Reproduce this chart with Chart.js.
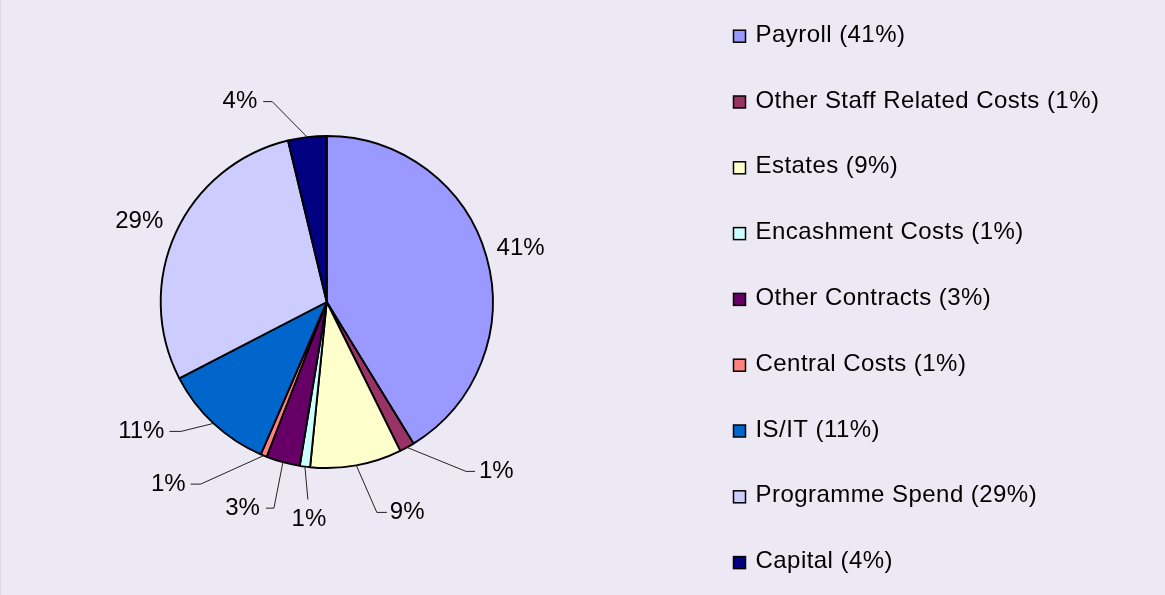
<!DOCTYPE html>
<html>
<head>
<meta charset="utf-8">
<title>Spend breakdown</title>
<script src="https://cdn.jsdelivr.net/npm/chart.js@4/dist/chart.umd.min.js"></script>
<style>
  html, body { margin: 0; padding: 0; background: #ECE9F4; }
  canvas { display: block; }
</style>
</head>
<body>
<canvas id="myChart" width="1165" height="595"></canvas>
<script>
// Datas
const categories = ["Payroll", "Other Staff Related Costs", "Estates", "Encashment Costs", "Other Contracts", "Central Costs", "IS/IT", "Programme Spend", "Capital"];
const shares = [41.25, 1.45, 8.9, 1.0, 3.3, 0.6, 10.9, 28.85, 3.75];
const sliceColours = ["#9999FF", "#993366", "#FFFFCC", "#CCFFFF", "#660066", "#FF8080", "#0066CC", "#CCCCFF", "#000080"];

// where each % label sits, relative to the middle of its slice's rim
// dx/dy = elbow of leader line (or text spot when no line), tail = horizontal bit
const labelLayout = [
    { dx: 10, dy: -9, line: false, align: "left" },
    { dx: 59, dy: 24, tail: 9, gap: 4, align: "left" },
    { dx: 20.5, dy: 47, tail: 10, gap: 3, align: "left" },
    { dx: 3, dy: 33, tail: 0, gap: 20, align: "center" },
    { dx: -9, dy: 46, tail: -8, gap: 6, align: "right" },
    { dx: -63, dy: 28.5, tail: -10, gap: 5, align: "right" },
    { dx: -32.5, dy: 8, tail: -11.5, gap: 5, align: "right" },
    { dx: -12.5, dy: -11.5, line: false, align: "right" },
    { dx: -35, dy: -35.5, tail: -9, gap: 6, align: "right" }
];

const FONT = "24px 'Liberation Sans', Arial, sans-serif";
const total = shares.reduce((a, b) => a + b, 0);
const pct = v => Math.round(v / total * 100) + "%";

// background + left frame line
const backdrop = {
    id: "backdrop",
    beforeDraw(chart) {
        const ctx = chart.ctx;
        ctx.save();
        ctx.fillStyle = "#ECE9F4";
        ctx.fillRect(0, 0, chart.width, chart.height);
        ctx.fillStyle = "#DDDBE5";
        ctx.fillRect(0, 0, 1, chart.height);
        ctx.restore();
    }
};

// outside % labels with leader lines
const sliceLabels = {
    id: "sliceLabels",
    afterDatasetsDraw(chart) {
        const ctx = chart.ctx;
        const arcs = chart.getDatasetMeta(0).data;
        ctx.save();
        ctx.font = FONT;
        ctx.fillStyle = "#000";
        ctx.strokeStyle = "#222";
        ctx.lineWidth = 1;
        ctx.textBaseline = "middle";
        arcs.forEach((arc, i) => {
            const mid = (arc.startAngle + arc.endAngle) / 2;
            const ex = arc.x + Math.cos(mid) * arc.outerRadius;
            const ey = arc.y + Math.sin(mid) * arc.outerRadius;
            const lay = labelLayout[i];
            const text = pct(shares[i]);
            const kx = ex + lay.dx, ky = ey + lay.dy;
            if (lay.line === false) {
                ctx.textAlign = lay.align;
                ctx.fillText(text, kx, ky);
                return;
            }
            ctx.beginPath();
            ctx.moveTo(ex, ey);
            ctx.lineTo(kx, ky);
            ctx.lineTo(kx + lay.tail, ky);
            ctx.stroke();
            ctx.textAlign = lay.align;
            if (lay.align === "center") {
                ctx.fillText(text, kx + 1, ky + lay.gap);
            } else {
                const dir = lay.tail < 0 ? -1 : 1;
                ctx.fillText(text, kx + lay.tail + dir * lay.gap, ky);
            }
        });
        ctx.restore();
    }
};

// legend on the right
const sideLegend = {
    id: "sideLegend",
    afterDraw(chart) {
        const ctx = chart.ctx;
        ctx.save();
        ctx.font = FONT;
        ctx.letterSpacing = "0.45px";
        ctx.textAlign = "left";
        ctx.textBaseline = "alphabetic";
        categories.forEach((name, i) => {
            const base = 41.7 + i * 65.8;
            ctx.fillStyle = sliceColours[i];
            ctx.fillRect(733.5, base - 11.5, 12, 12);
            ctx.strokeStyle = "#000";
            ctx.lineWidth = 1.5;
            ctx.strokeRect(733.5, base - 11.5, 12, 12);
            ctx.fillStyle = "#000";
            ctx.fillText(name + " (" + pct(shares[i]) + ")", 755.5, base);
        });
        ctx.restore();
    }
};

// the chart
const myChart = new Chart("myChart", {
    type: "pie",
    data: {
        labels: categories,
        datasets: [{
            data: shares,
            backgroundColor: sliceColours,
            borderColor: "#000",
            borderWidth: 1.9
        }]
    },
    options: {
        responsive: false,
        animation: false,
        devicePixelRatio: 1,
        events: [],
        layout: {
            padding: { left: 159.5, right: 671, top: 135, bottom: 126 }
        },
        plugins: {
            legend: { display: false },
            tooltip: { enabled: false }
        }
    },
    plugins: [backdrop, sliceLabels, sideLegend]
});
</script>
</body>
</html>
